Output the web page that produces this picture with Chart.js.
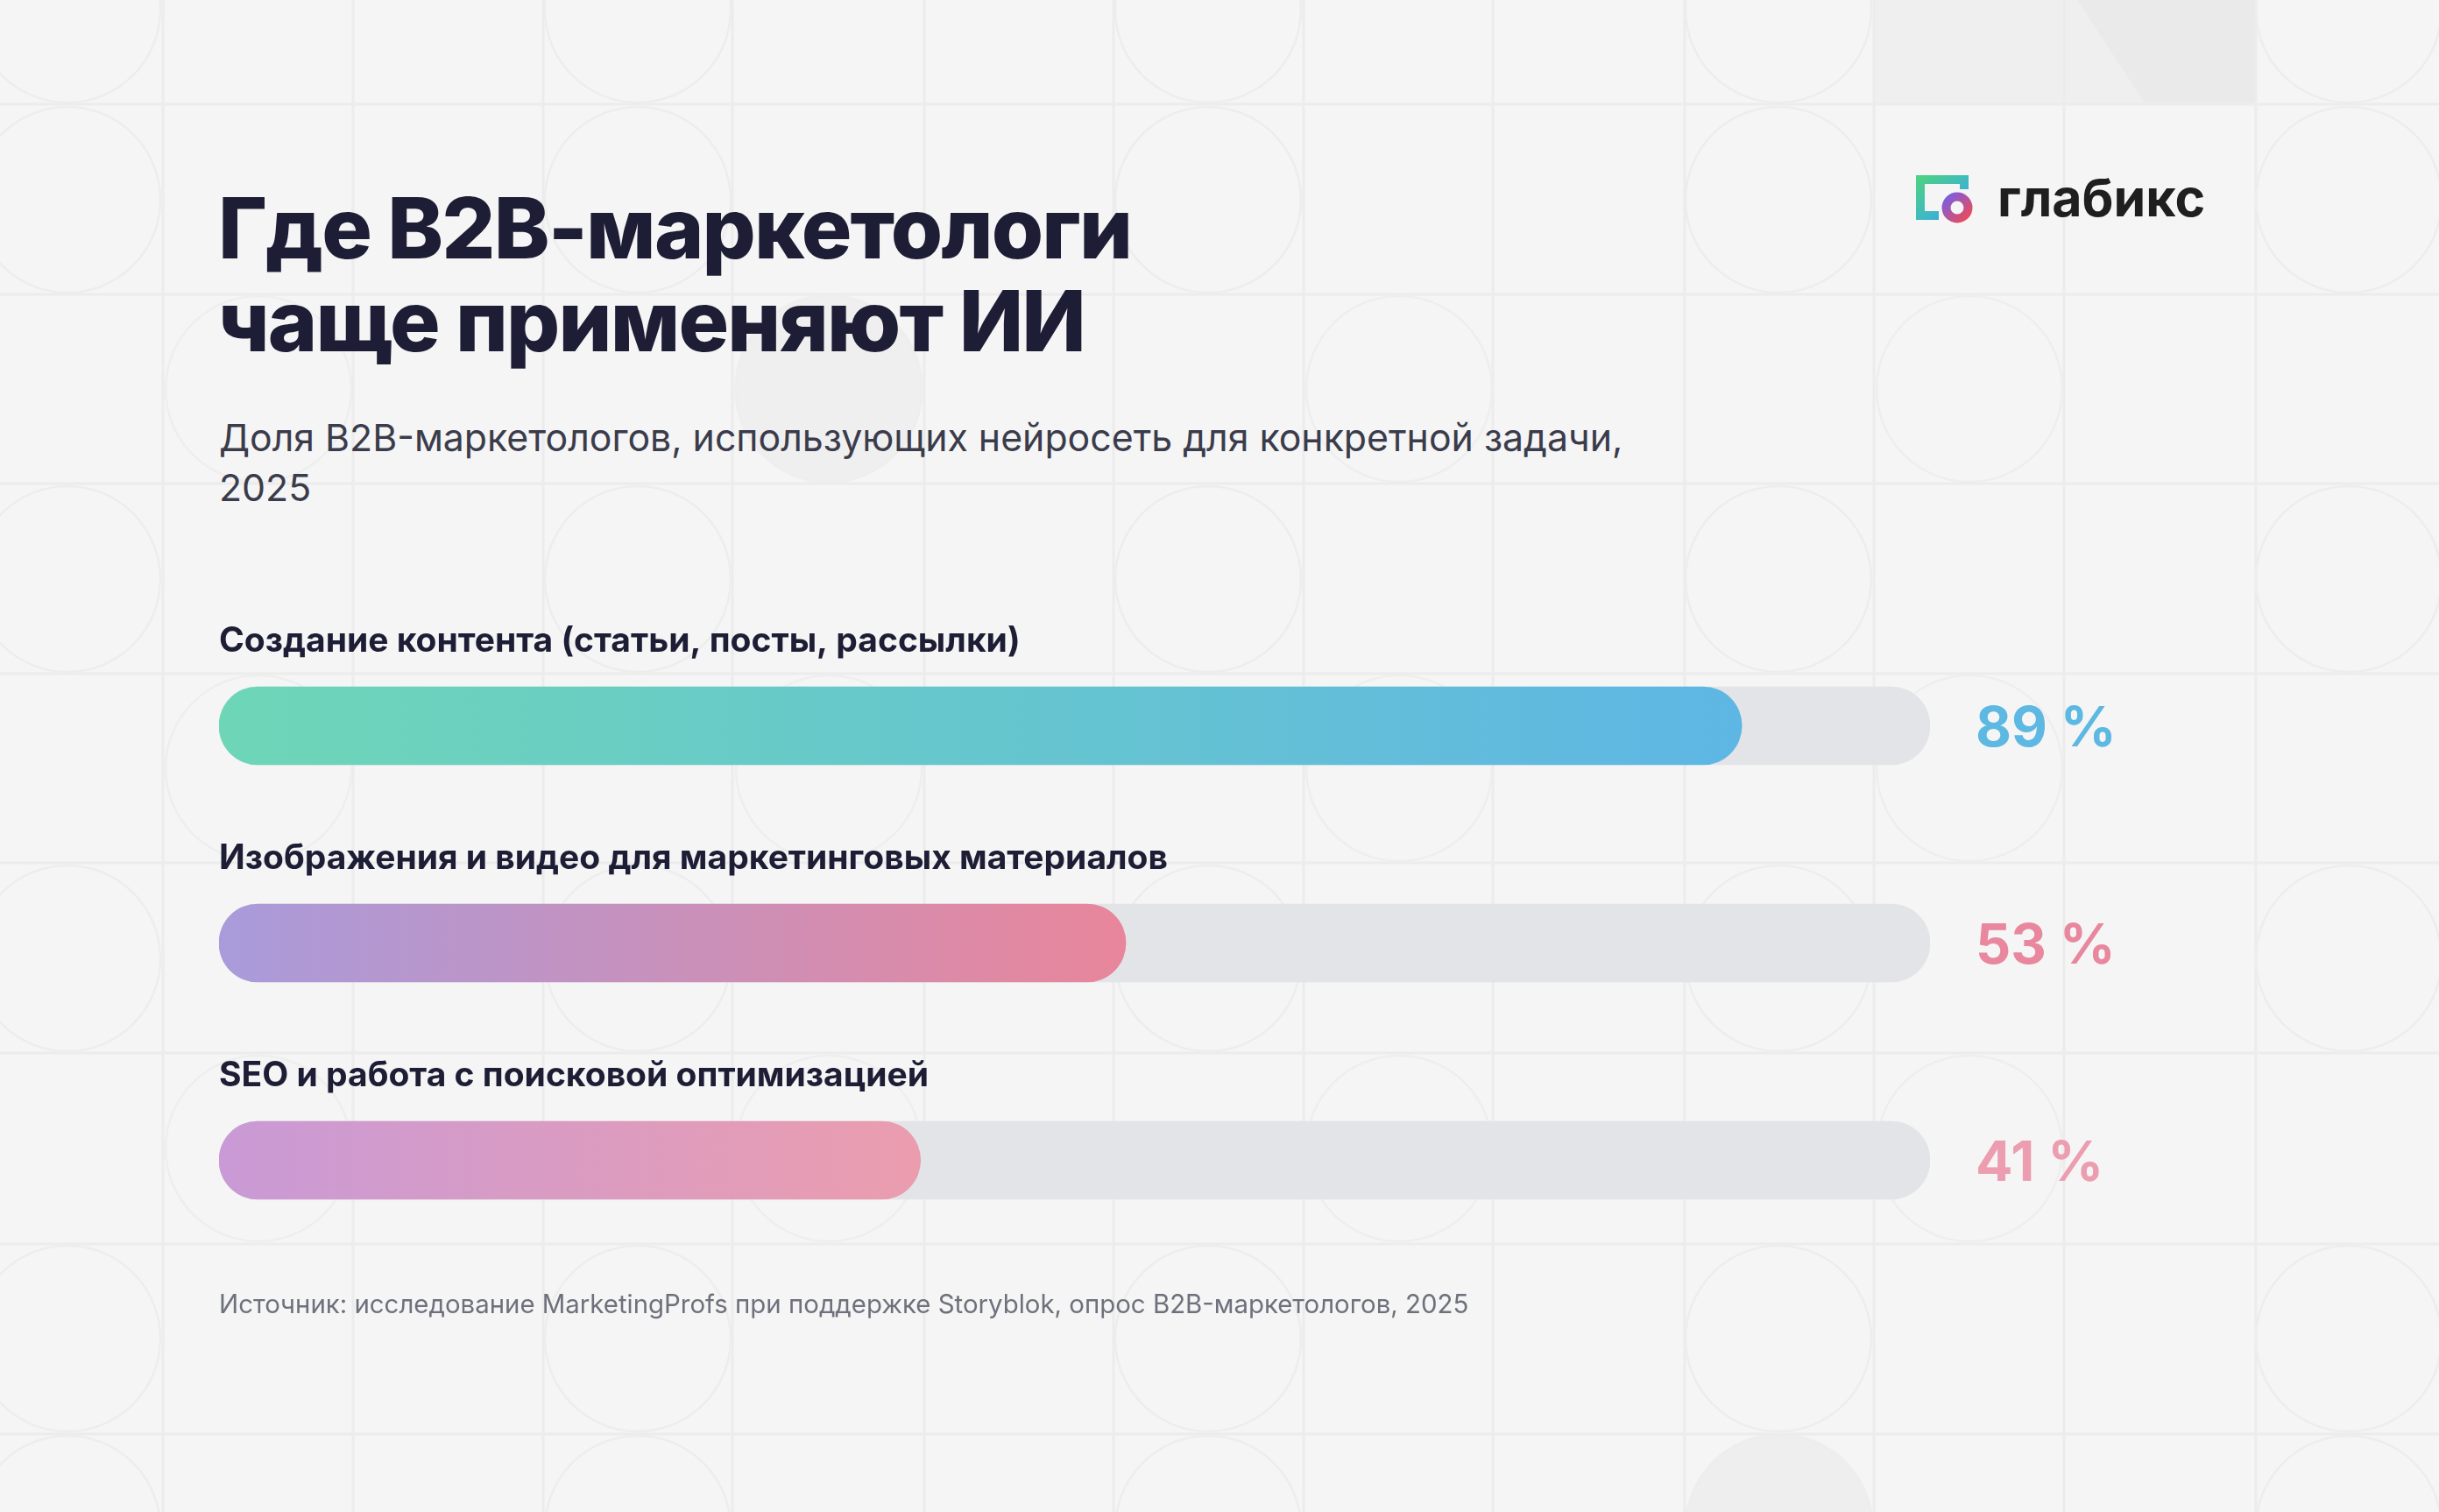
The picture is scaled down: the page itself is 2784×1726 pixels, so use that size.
<!DOCTYPE html>
<html lang="ru">
<head>
<meta charset="utf-8">
<script src="https://cdn.jsdelivr.net/npm/chart.js@4.4.1/dist/chart.umd.min.js"></script>
<style>
  html, body { margin:0; padding:0; }
  body { width:2784px; height:1726px; position:relative; overflow:hidden; background:#f5f5f5; font-family: Inter, "Noto Sans", sans-serif; }
  #bg { position:absolute; left:0; top:0; }
  #chartWrap { position:absolute; left:0; top:0; width:2784px; height:1726px; }
  .title { position:absolute; left:249px; top:207px; font-size:96px; line-height:106px; font-weight:800; color:#1d1e35; letter-spacing:-1.8px; white-space:nowrap; }
  .subtitle { position:absolute; left:250px; top:471px; font-size:42.8px; line-height:57px; font-weight:400; color:#3b3c4b; white-space:nowrap; }
  .source { position:absolute; left:250px; top:1471px; font-size:29.4px; line-height:35px; font-weight:400; color:#6e707c; white-space:nowrap; }
  .logo { position:absolute; left:2186px; top:198px; width:340px; height:64px; }
  .logo-text { position:absolute; left:2280px; top:190px; font-size:59px; line-height:72px; font-weight:700; color:#1f1f1f; white-space:nowrap; }
</style>
</head>
<body>
<svg id="bg" width="2784" height="1726" xmlns="http://www.w3.org/2000/svg">
  <g id="tiles"></g>
</svg>

<div class="title">Где B2B-маркетологи<br>чаще применяют ИИ</div>
<div class="subtitle">Доля B2B-маркетологов, использующих нейросеть для конкретной задачи,<br>2025</div>

<svg class="logo" width="340" height="64" viewBox="0 0 340 64" xmlns="http://www.w3.org/2000/svg">
  <defs>
    <linearGradient id="lgB" x1="0" y1="0" x2="1" y2="1">
      <stop offset="0" stop-color="#4fd47c"/>
      <stop offset="0.6" stop-color="#3fb6c9"/>
      <stop offset="1" stop-color="#3a8df0"/>
    </linearGradient>
    <linearGradient id="lgR" x1="0" y1="0" x2="1" y2="1">
      <stop offset="0" stop-color="#7a5ee0"/>
      <stop offset="1" stop-color="#ec4a5c"/>
    </linearGradient>
  </defs>
  <path d="M1 2 H61 V18 H51 V12 H11 V43 H27 V53 H1 Z" fill="url(#lgB)"/>
  <circle cx="48" cy="39" r="12.5" fill="none" stroke="url(#lgR)" stroke-width="10"/>
</svg>
<div class="logo-text">глабикс</div>

<div id="chartWrap"><canvas id="chart" width="2784" height="1726"></canvas></div>

<div class="source">Источник: исследование MarketingProfs при поддержке Storyblok, опрос B2B-маркетологов, 2025</div>

<script>
// ---- data ----
const categories = [
  'Создание контента (статьи, посты, рассылки)',
  'Изображения и видео для маркетинговых материалов',
  'SEO и работа с поисковой оптимизацией'
];
const shareValues = [89, 53, 41];
const trackValues = [100, 100, 100];
const valueLabels = ['89 %', '53 %', '41 %'];
const axisMin = 0;
const axisMax = 100;

// ---- styles ----
const gradientStarts = ['#6ed6b7', '#a99bdb', '#c99ad6'];
const gradientEnds   = ['#5eb6e4', '#e8869b', '#eb9dae'];
const valueColors    = ['#5db8e2', '#e8879d', '#ec9db0'];
const trackColor = '#e3e4e7';

// ---- background decoration ----
(function(){
  const g = document.getElementById('tiles');
  const ns = 'http://www.w3.org/2000/svg';
  const colX = [186, 403, 620, 836, 1055, 1271, 1488, 1704, 1923, 2139, 2356, 2575];
  const rowY = [119, 336, 552, 769, 985, 1202, 1420, 1637];
  function el(tag, attrs){ const e=document.createElementNS(ns, tag); for (const k in attrs) e.setAttribute(k, attrs[k]); g.appendChild(e); return e; }
  el('rect', {x:2139, y:0, width:436, height:119, fill:'#efefef'});
  el('polygon', {points:'2371,0 2575,0 2575,119 2449,119', fill:'#eaeaea'});
  el('circle', {cx:946, cy:444, r:108, fill:'#efefef'});
  el('circle', {cx:2031, cy:1744, r:108, fill:'#eeeeee'});
  colX.forEach(x => el('line', {x1:x, y1:0, x2:x, y2:1726, stroke:'#ececec', 'stroke-width':3}));
  rowY.forEach(y => el('line', {x1:0, y1:y, x2:2784, y2:y, stroke:'#ececec', 'stroke-width':3}));
  const cA = [77, 728, 1379, 2030, 2681];
  const rA = [11, 228, 444, 661, 877, 1094, 1311, 1528, 1745];
  const cB = [295, 946, 1597, 2248];
  cA.forEach(cx => rA.forEach((cy, j) => { if (j % 2 === 1 || j===0 || j===8) el('circle', {cx:cx, cy:cy, r:106, fill:'none', stroke:'#ededed', 'stroke-width':2.5}); }));
  cB.forEach(cx => [444, 877, 1311].forEach(cy => el('circle', {cx:cx, cy:cy, r:106, fill:'none', stroke:'#eeeeee', 'stroke-width':2.5})));
})();

// ---- chart ----
function barGradient(ctx, i) {
  const chart = ctx.chart;
  const xs = chart.scales.x;
  if (!xs || !chart.chartArea) return gradientStarts[i];
  const x0 = xs.getPixelForValue(axisMin);
  const x1 = xs.getPixelForValue(shareValues[i]);
  const gr = chart.ctx.createLinearGradient(x0, 0, x1, 0);
  gr.addColorStop(0, gradientStarts[i]);
  gr.addColorStop(1, gradientEnds[i]);
  return gr;
}

const labelsPlugin = {
  id: 'rowLabels',
  afterDatasetsDraw(chart) {
    const c = chart.ctx;
    const ys = chart.scales.y, xs = chart.scales.x;
    c.save();
    categories.forEach((cat, i) => {
      const yc = ys.getPixelForValue(i);
      c.font = '700 39px Inter, "Noto Sans", sans-serif';
      c.fillStyle = '#1d1e35';
      c.textAlign = 'left';
      c.textBaseline = 'alphabetic';
      c.fillText(cat, xs.getPixelForValue(axisMin), yc - 85);
      c.font = '700 63px Inter, "Noto Sans", sans-serif';
      c.fillStyle = valueColors[i];
      c.fillText(valueLabels[i], xs.getPixelForValue(axisMax) + 52, yc + 23);
    });
    c.restore();
  }
};

new Chart(document.getElementById('chart'), {
  type: 'bar',
  data: {
    labels: categories,
    datasets: [
      {
        label: 'Доля',
        data: shareValues,
        backgroundColor: (ctx) => barGradient(ctx, ctx.dataIndex),
        barThickness: 89,
        borderRadius: 45,
        borderSkipped: false,
        grouped: false,
        order: 0
      },
      {
        label: 'Шкала',
        data: trackValues,
        backgroundColor: trackColor,
        barThickness: 89,
        borderRadius: 45,
        borderSkipped: false,
        grouped: false,
        order: 1
      }
    ]
  },
  options: {
    indexAxis: 'y',
    responsive: false,
    animation: false,
    devicePixelRatio: 1,
    layout: { padding: { left: 250, right: 581, top: 704.5, bottom: 277.5 } },
    plugins: { legend: { display: false }, tooltip: { enabled: false } },
    scales: {
      x: { type: 'linear', min: axisMin, max: axisMax, display: false, grid: { display: false } },
      y: { type: 'category', display: false, offset: true, grid: { display: false } }
    }
  },
  plugins: [labelsPlugin]
});
</script>
</body>
</html>
